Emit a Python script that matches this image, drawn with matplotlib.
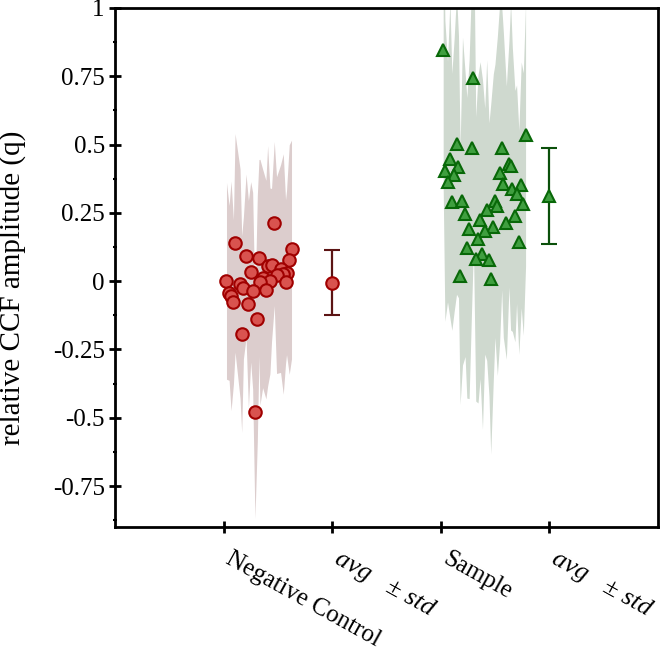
import matplotlib
matplotlib.use("Agg")
import matplotlib.pyplot as plt
import matplotlib.transforms as mtrans
import numpy as np

# negative control: jittered x position, value, per-point spread
nc_x = [1.465, 1.104, 1.624, 1.205, 1.324, 1.603, 1.404, 1.440, 1.523, 1.248,
        1.578, 1.548, 1.486, 1.358, 1.025, 1.425, 1.569, 1.150, 1.333, 1.181,
        1.388, 1.266, 1.049, 1.067, 1.089, 1.227, 1.309, 1.165, 1.287]
nc_y = [0.211, 0.140, 0.116, 0.092, 0.085, 0.079, 0.056, 0.059, 0.046, 0.034,
        0.031, 0.026, 0.022, 0.010, 0.001, 0.001, -0.002, -0.009, -0.004, -0.024,
        -0.031, -0.035, -0.043, -0.054, -0.076, -0.085, -0.137, -0.194, -0.479]
nc_err = [0.30, 0.40, 0.40, 0.30, 0.36, 0.42, 0.44, 0.28, 0.38, 0.33,
          0.30, 0.44, 0.36, 0.40, 0.36, 0.34, 0.30, 0.42, 0.45, 0.26,
          0.40, 0.36, 0.32, 0.42, 0.30, 0.38, 0.45, 0.36, 0.39]

# sample
s_x = [3.021, 3.300, 3.780, 3.144, 3.282, 3.560, 3.083, 3.627, 3.642, 3.162,
       3.037, 3.541, 3.122, 3.061, 3.575, 3.740, 3.658, 3.697, 3.101, 3.199,
       3.498, 3.520, 3.759, 3.422, 3.223, 3.682, 3.361, 3.603, 3.483, 3.260,
       3.404, 3.342, 3.718, 3.239, 3.383, 3.321, 3.443, 3.177, 3.459]
s_y = [0.846, 0.745, 0.535, 0.502, 0.486, 0.488, 0.446, 0.429, 0.421, 0.419,
       0.403, 0.394, 0.388, 0.364, 0.354, 0.352, 0.336, 0.318, 0.290, 0.293,
       0.294, 0.275, 0.282, 0.260, 0.244, 0.238, 0.223, 0.214, 0.199, 0.190,
       0.183, 0.154, 0.142, 0.122, 0.098, 0.081, 0.079, 0.019, 0.007]
s_err = [0.50, 0.62, 0.48, 0.55, 0.60, 0.52, 0.58, 0.45, 0.60, 0.48,
         0.55, 0.62, 0.50, 0.44, 0.56, 0.45, 0.52, 0.40, 0.47, 0.60,
         0.50, 0.62, 0.48, 0.55, 0.52, 0.46, 0.58, 0.50, 0.56, 0.62,
         0.45, 0.60, 0.41, 0.55, 0.64, 0.52, 0.50, 0.47, 0.64]

tick_pos = [1, 2, 3, 4]
tick_labels = ["Negative Control", "avg   \u00b1 std", "Sample", "avg   \u00b1 std"]
y_ticks = [1, 0.75, 0.5, 0.25, 0, -0.25, -0.5, -0.75]

plt.rcParams['font.family'] = ['Liberation Serif', 'DejaVu Serif']
plt.rcParams['axes.unicode_minus'] = False

fig = plt.figure(figsize=(6.66, 6.58), dpi=100)
ax = fig.add_axes([0.173, 0.199, 0.815, 0.789])


def group(xs, ys, errs, x_avg, marker, face, edge, band, bar):
    xs = np.asarray(xs); ys = np.asarray(ys); errs = np.asarray(errs)
    order = np.argsort(xs)
    ax.fill_between(xs[order], ys[order] - errs[order], ys[order] + errs[order],
                    color=band, lw=0, zorder=1)
    ax.plot(xs, ys, ls='none', marker=marker, ms=9, mfc=face, mec=edge, mew=1.5, zorder=3)
    ax.errorbar([x_avg], [ys.mean()], yerr=[ys.std()], fmt=marker, ms=9,
                mfc=face, mec=edge, mew=1.5, ecolor=bar, elinewidth=1.6,
                capsize=6, capthick=1.6, zorder=3)


group(nc_x, nc_y, nc_err, 2, 'o', '#d9534f', '#a00000', '#dccdcd', '#5c1414')
group(s_x, s_y, s_err, 4, '^', '#3f9f3f', '#086808', '#cfd9cf', '#0b500b')

ax.set_xlim(0, 5)
ax.set_ylim(-0.9, 1)
ax.set_yticks(y_ticks)
ax.set_yticklabels([f"{v:g}" for v in y_ticks])
ax.set_yticks(np.arange(-0.875, 1.0, 0.25), minor=True)
ax.set_xticks(tick_pos)
ax.set_xticklabels([])

# rotated category labels, nudged right of their ticks
base = ax.get_xaxis_transform()
offset = mtrans.ScaledTranslation(9 / 100, -21 / 100, fig.dpi_scale_trans)
for i, (p, lab) in enumerate(zip(tick_pos, tick_labels)):
    ax.text(p, 0, lab, transform=base + offset, rotation=-29,
            rotation_mode='anchor', ha='left', va='top',
            fontsize=19 if i % 2 else 18,
            fontstyle='italic' if i % 2 else 'normal', clip_on=False)

ax.tick_params(axis='both', which='major', direction='inout', length=9,
               width=2, labelsize=18, pad=3)
ax.tick_params(axis='y', which='minor', direction='inout', length=3, width=1.5)
for sp in ax.spines.values():
    sp.set_linewidth(2)
ax.set_ylabel("relative CCF amplitude (q)", fontsize=21)
ax.yaxis.set_label_coords(-0.165, 0.46)

fig.savefig("out.png", dpi=100)
